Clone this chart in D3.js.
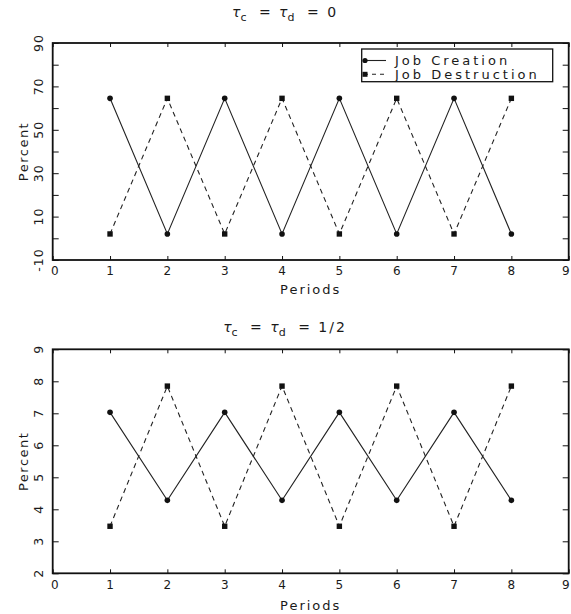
<!DOCTYPE html>
<html>
<head>
<meta charset="utf-8">
<script src="https://cdn.jsdelivr.net/npm/d3@7"></script>
<style>
  html, body { margin: 0; padding: 0; background: #fff; }
  svg { display: block; }
  text { font-family: "DejaVu Sans", sans-serif; fill: #1a1a1a; }
</style>
</head>
<body>
<svg id="chart" width="571" height="614"></svg>
<script>
// Periods on the horizontal axis
const periods = [1, 2, 3, 4, 5, 6, 7, 8];
const xTickValues = [0, 1, 2, 3, 4, 5, 6, 7, 8, 9];
const xTickLabels = ["0", "1", "2", "3", "4", "5", "6", "7", "8", "9"];

// Panel 1: tau_c = tau_d = 0
const creationA    = [64.5, 2.0, 64.5, 2.0, 64.5, 2.0, 64.5, 2.0];
const destructionA = [2.0, 64.5, 2.0, 64.5, 2.0, 64.5, 2.0, 64.5];
const yTickValuesA = [-10, 10, 30, 50, 70, 90];
const yTickLabelsA = ["-10", "10", "30", "50", "70", "90"];
const yMinorA      = [-10, 0, 10, 20, 30, 40, 50, 60, 70, 80, 90];

// Panel 2: tau_c = tau_d = 1/2
const creationB    = [7.03, 4.28, 7.03, 4.28, 7.03, 4.28, 7.03, 4.28];
const destructionB = [3.47, 7.85, 3.47, 7.85, 3.47, 7.85, 3.47, 7.85];
const yTickValuesB = [2, 3, 4, 5, 6, 7, 8, 9];
const yTickLabelsB = ["2", "3", "4", "5", "6", "7", "8", "9"];

const seriesNames = ["Job Creation", "Job Destruction"];

const svg = d3.select("#chart");
const ink = "#111";

const panels = [
  { top: 43,    bottom: 260,   domain: [-10, 90], ticks: yTickValuesA, labels: yTickLabelsA,
    minor: yMinorA, creation: creationA, destruction: destructionA,
    title: { y: 17, tail: "0" }, xLabelY: 275, periodsY: 294, legend: true },
  { top: 349.3, bottom: 573.3, domain: [2, 9], ticks: yTickValuesB, labels: yTickLabelsB,
    minor: yTickValuesB, creation: creationB, destruction: destructionB,
    title: { y: 332, tail: "1/2" }, xLabelY: 589, periodsY: 610, legend: false }
];

const left = 52.7, right = 568.7;
const x = d3.scaleLinear().domain([0, 9]).range([left, right]);

panels.forEach(p => {
  const y = d3.scaleLinear().domain(p.domain).range([p.bottom, p.top]);
  const g = svg.append("g");

  // Title with tau symbols and subscripts
  const t = g.append("text")
    .attr("x", 285).attr("y", p.title.y)
    .attr("text-anchor", "middle")
    .style("font-size", "14px");
  t.append("tspan").text("τ").style("font-style", "italic");
  t.append("tspan").text("c").attr("dy", 4).style("font-size", "11px");
  t.append("tspan").text(" =  ").attr("dy", -4).attr("dx", 6).style("letter-spacing", "2px");
  t.append("tspan").text("τ").style("font-style", "italic");
  t.append("tspan").text("d").attr("dy", 4).style("font-size", "11px");
  t.append("tspan").text(" =  " + p.title.tail).attr("dy", -4).attr("dx", 6).style("letter-spacing", "2px");

  // Inward ticks on all four sides
  const xAxisB = d3.axisBottom(x).tickValues(xTickValues).tickSizeInner(-4).tickSizeOuter(0).tickFormat("");
  const xAxisT = d3.axisTop(x).tickValues(xTickValues).tickSizeInner(-4).tickSizeOuter(0).tickFormat("");
  const yAxisL = d3.axisLeft(y).tickValues(p.minor).tickSizeInner(-6).tickSizeOuter(0).tickFormat("");
  const yAxisR = d3.axisRight(y).tickValues(p.minor).tickSizeInner(-6).tickSizeOuter(0).tickFormat("");

  g.append("g").attr("transform", `translate(0,${p.bottom})`).call(xAxisB);
  g.append("g").attr("transform", `translate(0,${p.top})`).call(xAxisT);
  g.append("g").attr("transform", `translate(${left},0)`).call(yAxisL);
  g.append("g").attr("transform", `translate(${right},0)`).call(yAxisR);
  g.selectAll(".domain").remove();
  g.selectAll(".tick line").attr("stroke", ink).attr("stroke-width", 1);

  // Frame
  g.append("rect")
    .attr("x", left).attr("y", p.top)
    .attr("width", right - left).attr("height", p.bottom - p.top)
    .attr("fill", "none").attr("stroke", ink).attr("stroke-width", 1.8);

  // X tick labels (end labels nudged inside the window)
  g.append("g").selectAll("text").data(xTickValues).join("text")
    .attr("x", d => x(d) + (d === 0 ? 2 : d === 9 ? -3 : 0))
    .attr("y", p.xLabelY)
    .attr("text-anchor", "middle")
    .style("font-size", "12px")
    .text((d, i) => xTickLabels[i]);

  // Y tick labels, rotated
  g.append("g").selectAll("text").data(p.ticks).join("text")
    .attr("transform", d => `translate(43,${y(d)}) rotate(-90)`)
    .attr("text-anchor", "middle")
    .style("font-size", "12.5px")
    .style("letter-spacing", "1px")
    .text((d, i) => p.labels[i]);

  // Axis titles
  g.append("text")
    .attr("x", (left + right) / 2).attr("y", p.periodsY)
    .attr("text-anchor", "middle")
    .style("font-size", "13px").style("letter-spacing", "2px")
    .text("Periods");
  g.append("text")
    .attr("transform", `translate(28,${(p.top + p.bottom) / 2}) rotate(-90)`)
    .attr("text-anchor", "middle")
    .style("font-size", "13px").style("letter-spacing", "1.5px")
    .text("Percent");

  // Series lines
  const line = d3.line().x((d, i) => x(periods[i])).y(d => y(d));
  g.append("path").datum(p.creation).attr("d", line)
    .attr("fill", "none").attr("stroke", "#222").attr("stroke-width", 1.1);
  g.append("path").datum(p.destruction).attr("d", line)
    .attr("fill", "none").attr("stroke", "#222").attr("stroke-width", 1.1)
    .attr("stroke-dasharray", "5,4");

  // Markers
  g.append("g").selectAll("circle").data(p.creation).join("circle")
    .attr("cx", (d, i) => x(periods[i])).attr("cy", d => y(d))
    .attr("r", 2.8).attr("fill", ink);
  g.append("g").selectAll("rect").data(p.destruction).join("rect")
    .attr("x", (d, i) => x(periods[i]) - 2.7).attr("y", d => y(d) - 2.7)
    .attr("width", 5.4).attr("height", 5.4).attr("fill", ink);

  // Legend
  if (p.legend) {
    const lg = g.append("g");
    lg.append("rect")
      .attr("x", 361.7).attr("y", 49).attr("width", 191).attr("height", 32.7)
      .attr("fill", "#fff").attr("stroke", ink).attr("stroke-width", 1.3);
    const rows = [60.5, 74.3];
    seriesNames.forEach((name, i) => {
      const ry = rows[i];
      lg.append("line").attr("x1", 364).attr("x2", 386).attr("y1", ry).attr("y2", ry)
        .attr("stroke", "#222").attr("stroke-width", 1.1)
        .attr("stroke-dasharray", i === 1 ? "4,4" : null);
      if (i === 0) {
        lg.append("circle").attr("cx", 365).attr("cy", ry).attr("r", 2.6).attr("fill", ink);
      } else {
        lg.append("rect").attr("x", 362.5).attr("y", ry - 2.5).attr("width", 5).attr("height", 5).attr("fill", ink);
      }
      lg.append("text").attr("x", 395).attr("y", ry + 4.5)
        .style("font-size", "13px").style("letter-spacing", "3px")
        .text(name);
    });
  }
});
</script>
</body>
</html>
